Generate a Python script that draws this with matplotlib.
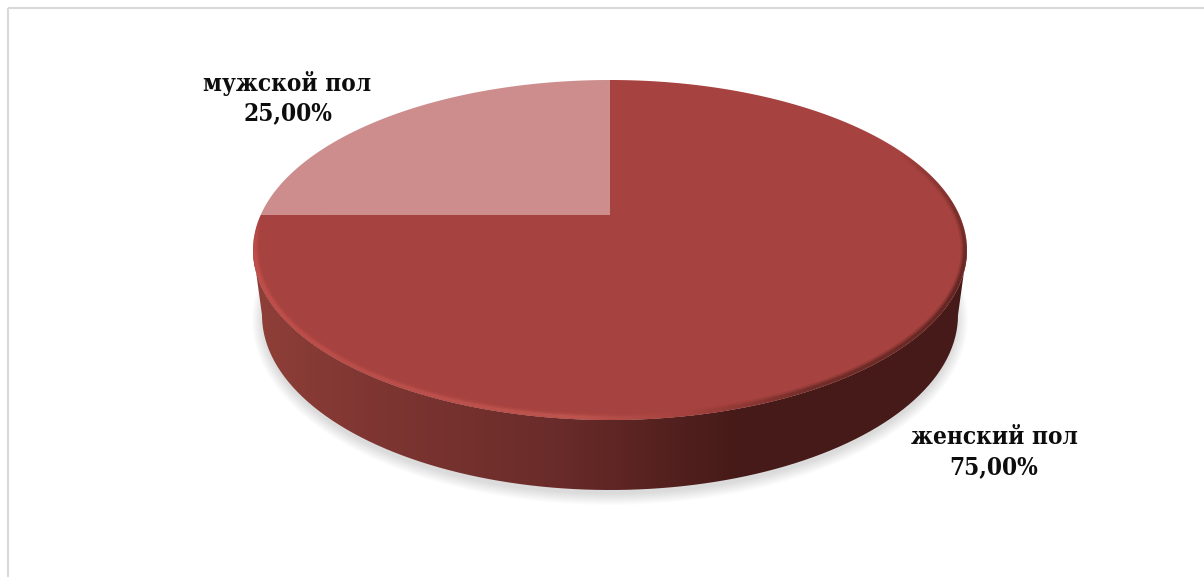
import numpy as np
import matplotlib
matplotlib.use("Agg")
import matplotlib.pyplot as plt
from matplotlib.collections import LineCollection
from matplotlib.colors import LinearSegmentedColormap
from matplotlib.patches import Ellipse, PathPatch, Rectangle
from matplotlib.path import Path

categories = ["мужской пол", "женский пол"]
shares = [25.00, 75.00]
slice_colors = ["#cd8d8d", "#a6423f"]

# pie geometry in image pixels
CX, CY = 610, 250
A, B = 357, 170
K = 0.206          # perspective, moves the apex above the ellipse centre
DEPTH = 65
BOTTOM_A = 348
BOTTOM_B = 175


def project(angle):
    # circle -> ellipse with the slice apex shifted up
    u, v = np.cos(angle), np.sin(angle)
    w = 1 + K * v
    x = np.sqrt(1 - K * K) * u / w
    y = (v + K) / w
    return CX + A * x, CY - B * y


fig = plt.figure(figsize=(12.04, 5.77), dpi=100)
ax = fig.add_axes([0, 0, 1, 1])

# frame of the chart
ax.add_patch(Rectangle((7.5, 7.5), 1300, 700, fill=False, ec="#d9d9d9", lw=1.5))

t = np.linspace(0, 2 * np.pi, 400)

# soft shadow under the disc
for grow in np.arange(12, 0, -1):
    ax.fill(CX + (BOTTOM_A + grow - 2) * np.cos(t), CY + DEPTH + 5 + (BOTTOM_B + grow - 2) * np.sin(t),
            color="black", alpha=0.012, lw=0, zorder=1)

# side wall: gradient clipped to top + bottom outlines
side_cmap = LinearSegmentedColormap.from_list(
    "side", [(0, "#8f3f38"), (0.16, "#7f3632"), (0.42, "#6a2c2a"), (0.68, "#461a18"), (1, "#451b18")])
gradient = np.linspace(0, 1, 512).reshape(1, -1)
im = ax.imshow(gradient, extent=(CX - A, CX + A, 520, 200), cmap=side_cmap, aspect="auto", zorder=2)
lower = np.linspace(np.pi, 2 * np.pi, 200)
top_xs, top_ys = CX + A * np.cos(lower), CY - B * np.sin(lower)
low = np.linspace(0, np.pi, 200)
bot_xs = CX + BOTTOM_A * np.cos(low)
bot_ys = CY + DEPTH + BOTTOM_B * np.sin(low)
outline = np.vstack([np.column_stack([top_xs, top_ys]), np.column_stack([bot_xs, bot_ys])])
clip = PathPatch(Path(np.vstack([outline, outline[0]])), transform=ax.transData, fc="none", ec="none")
ax.add_patch(clip)
im.set_clip_path(clip)

# top face, slices start at 12 o'clock and run counter-clockwise
start = np.pi / 2
for share, color in zip(shares, slice_colors):
    stop = start + 2 * np.pi * share / sum(shares)
    angles = np.linspace(start, stop, 300)
    xs, ys = project(angles)
    ax.fill(np.r_[CX, xs], np.r_[CY - B * K, ys], color=color, lw=0, zorder=3)
    start = stop

# bevel along the near rim, kept inside the top ellipse
face = Ellipse((CX, CY), 2 * A, 2 * B, transform=ax.transData, fc="none", ec="none")
ax.add_patch(face)
rim = np.linspace(np.pi * 0.93, 2.2 * np.pi, 400)
pts = np.column_stack([CX + (A - 2) * np.cos(rim), CY - (B - 2) * np.sin(rim)])
segs = np.stack([pts[:-1], pts[1:]], axis=1)
bevel = LinearSegmentedColormap.from_list(
    "bevel", [(0, "#c4504c00"), (0.07, "#c4504c"), (0.25, "#bc4f4b"), (0.42, "#c05650"),
              (0.5, "#a6423f"), (0.6, "#6e2c28"), (0.78, "#5e2522"), (1, "#5e252200")])
for width, alpha in [(6, 0.3), (3.5, 0.55), (2, 0.8)]:
    seg_colors = bevel(np.linspace(0, 1, len(segs)))
    seg_colors[:, 3] *= alpha
    lc = LineCollection(segs, colors=seg_colors, lw=width, zorder=4)
    ax.add_collection(lc)
    lc.set_clip_path(face)

# labels
labels = [f"{name}\n{share:.2f}%".replace(".", ",") for name, share in zip(categories, shares)]
font = dict(family="DejaVu Serif", weight="bold", stretch="condensed", size=17.5,
            color="#0d0d0d", ha="center", va="center", linespacing=1.3, zorder=5)
ax.text(287.5, 98, labels[0], **font)
ax.text(994, 452, labels[1], **font)

ax.set_xlim(0, 1204)
ax.set_ylim(577, 0)
ax.axis("off")

fig.savefig("out.png", dpi=100)
